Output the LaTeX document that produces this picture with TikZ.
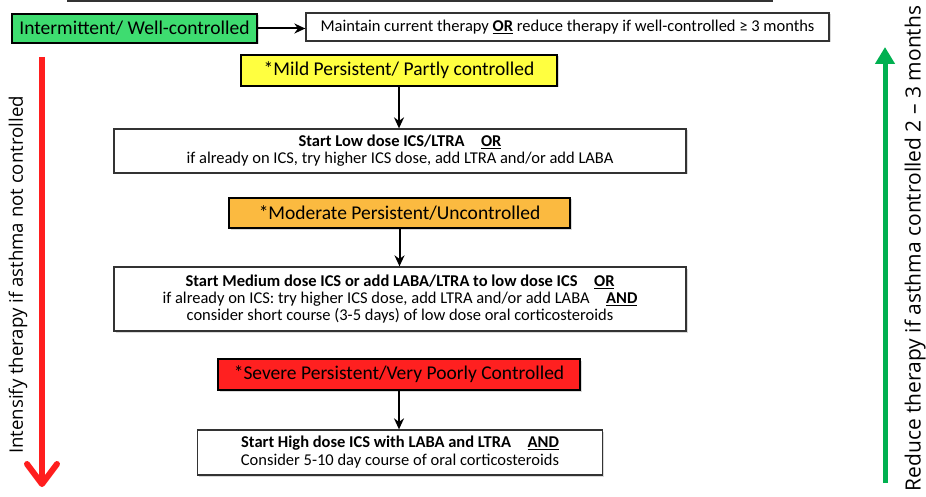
\documentclass[tikz,border=0pt]{standalone}
\usepackage{fontspec}
\setmainfont{Carlito}
\newfontfamily\sidefont{Open Sans}
\usetikzlibrary{arrows.meta,shadows}
\definecolor{boxgreen}{RGB}{62,220,112}
\definecolor{boxyellow}{RGB}{255,255,64}
\definecolor{boxorange}{RGB}{251,186,64}
\definecolor{boxred}{RGB}{255,32,32}
\definecolor{arrred}{RGB}{255,30,30}
\definecolor{arrgreen}{RGB}{0,176,80}
\begin{document}
\begin{tikzpicture}[x=1pt,y=-1pt,
  colbox/.style={draw=black, line width=2pt, inner sep=0pt,
    drop shadow={shadow xshift=1.5pt, shadow yshift=-1.5pt, fill=black!25, opacity=0.6},
    font=\fontsize{19.5pt}{22pt}\selectfont},
  whitebox/.style={draw=black!80, line width=1.3pt, fill=white, inner sep=0pt, align=center,
    drop shadow={shadow xshift=1.5pt, shadow yshift=-1.5pt, fill=black!25, opacity=0.6},
    font=\fontsize{16.5pt}{17pt}\selectfont},
  conn/.style={-{Stealth[length=11pt,width=10pt]}, line width=2pt, draw=black},
  sidetext/.style={rotate=90, inner sep=0pt}
]
\useasboundingbox (0,0) rectangle (926,497);

% cut-off box at the very top
\node[draw=black!80, line width=1.3pt, minimum width=704pt, minimum height=30pt, inner sep=0pt] (topbox) at (420,-14) {};

\node[colbox, fill=boxgreen, minimum width=245pt, minimum height=29pt] (g) at (134.5,28.5) {Intermittent/ Well-controlled};
\node[whitebox, minimum width=523pt, minimum height=28pt] (w1) at (567.5,27)
  {Maintain current therapy \underline{\textbf{OR}} reduce therapy if well-controlled ≥ 3 months};

\node[colbox, fill=boxyellow, minimum width=316pt, minimum height=31pt] (y) at (399,70.5) {*Mild Persistent/ Partly controlled};
\node[whitebox, minimum width=572pt, minimum height=44pt] (w2) at (400,151)
  {\textbf{Start Low dose ICS/LTRA\quad\underline{OR}}\\
   if already on ICS, try higher ICS dose, add LTRA and/or add LABA};

\node[colbox, fill=boxorange, minimum width=341pt, minimum height=30pt] (o) at (399.5,213) {*Moderate Persistent/Uncontrolled};
\node[whitebox, minimum width=572pt, minimum height=64pt] (w3) at (400,299)
  {\textbf{Start Medium dose ICS or add LABA/LTRA to low dose ICS\quad\underline{OR}}\\
   if already on ICS: try higher ICS dose, add LTRA and/or add LABA\quad\underline{\textbf{AND}}\\
   consider short course (3-5 days) of low dose oral corticosteroids};

\node[colbox, fill=boxred, minimum width=362pt, minimum height=31pt] (r) at (399,374.5) {*Severe Persistent/Very Poorly Controlled};
\node[whitebox, minimum width=405pt, minimum height=45pt, font=\fontsize{16.5pt}{18pt}\selectfont] (w4) at (400,452.5)
  {\textbf{Start High dose ICS with LABA and LTRA\quad\underline{AND}}\\
   Consider 5-10 day course of oral corticosteroids};

\draw[conn] (g.east) -- (g.east -| w1.west);
\draw[conn] (y.south) -- (y.south |- w2.north);
\draw[conn] (o.south) -- (o.south |- w3.north);
\draw[conn] (r.south) -- (r.south |- w4.north);

% side arrows
\coordinate (rtop) at (42,57);
\coordinate (rbot) at (42,487);
\draw[arrred, line width=6pt, -{Straight Barb[length=20pt,width=30pt,line cap=round,line join=round]}] (rtop) -- (rbot);
\coordinate (gbot) at (885,483);
\coordinate (gtop) at (885,47);
\draw[arrgreen, line width=5pt, -{Triangle[length=17pt,width=19pt]}] (gbot) -- (gtop);

\node[sidetext, font=\sidefont\fontsize{18.6pt}{21pt}\selectfont] (lt) at (18,275) {Intensify therapy if asthma not controlled};
\node[sidetext, font=\sidefont\fontsize{21pt}{24pt}\selectfont] (rt) at (915,248.5) {Reduce therapy if asthma controlled 2 – 3 months};
\end{tikzpicture}
\end{document}
